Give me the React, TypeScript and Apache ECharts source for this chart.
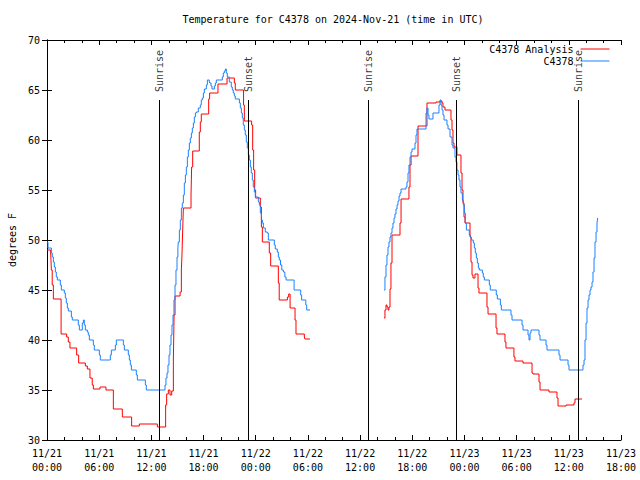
import React, { useEffect, useRef } from "react";
import * as echarts from "echarts";

// hours since 2024-11-21 00:00 UTC
const redHours1 = [0, 0.42, 0.5, 0.6, 0.73, 1.62, 2.26, 2.45, 2.64, 3.41, 3.64, 4.41, 4.64, 4.94, 5.2, 5.33, 6.09, 6.78, 7.63, 8.66, 9.73, 10.62, 12.69, 13.64, 13.76, 13.95, 14.14, 14.34, 14.53, 14.61, 14.72, 15.3, 15.45, 15.52, 15.6, 15.68, 16.56, 16.63, 16.75, 17.51, 17.63, 17.74, 18.59, 18.7, 19.66, 20.7, 21.54, 21.65, 22.6, 22.69, 23.53, 23.65, 23.76, 23.88, 23.99, 24.53, 24.65, 24.76, 25.56, 25.72, 26.6, 26.7, 27.64, 27.79, 27.95, 28.52, 28.63, 29.59, 29.66, 30.24];
const redTemps1 = [49.0, 48.8, 47.0, 45.5, 44.1, 40.6, 40.3, 39.8, 39.2, 38.5, 37.7, 37.4, 37.1, 36.2, 35.5, 35.1, 35.3, 35.0, 33.1, 32.3, 31.4, 31.6, 31.3, 33.5, 34.6, 35.0, 34.5, 34.9, 38.0, 42.5, 44.4, 44.8, 47.0, 48.5, 51.0, 53.2, 54.5, 57.3, 58.9, 60.8, 61.8, 62.6, 64.1, 64.7, 65.6, 66.2, 65.7, 65.0, 63.5, 61.9, 61.5, 59.0, 57.0, 55.0, 54.2, 53.3, 51.3, 49.8, 48.7, 47.4, 45.7, 44.0, 44.3, 44.6, 43.2, 42.0, 40.6, 40.3, 40.1, 40.1];

const redHours2 = [38.75, 38.86, 38.98, 39.09, 39.21, 39.32, 39.44, 39.55, 39.67, 40.59, 40.71, 41.62, 41.74, 41.86, 42.66, 43.69, 44.73, 45.19, 45.42, 45.53, 45.76, 46.45, 46.57, 46.68, 46.8, 47.14, 47.6, 47.72, 47.83, 47.95, 48.06, 48.64, 48.75, 48.87, 48.98, 49.21, 49.56, 49.67, 50.59, 50.71, 51.63, 51.74, 52.66, 52.77, 53.69, 53.81, 54.73, 55.77, 55.88, 56.57, 56.69, 57.72, 58.64, 58.76, 59.68, 60.59, 60.71, 61.52];
const redTemps2 = [42.2, 43.0, 43.5, 43.3, 43.0, 43.3, 45.1, 47.7, 50.5, 51.7, 54.1, 55.3, 57.5, 58.4, 61.4, 63.7, 63.8, 63.9, 63.7, 63.3, 63.0, 62.0, 61.0, 59.7, 59.3, 58.5, 56.7, 55.0, 53.7, 52.3, 51.7, 50.3, 47.8, 46.5, 46.2, 46.6, 45.2, 44.7, 43.3, 42.6, 41.2, 40.6, 39.8, 39.2, 38.3, 37.9, 37.7, 36.7, 36.6, 35.8, 35.0, 34.8, 34.2, 33.4, 33.5, 33.7, 34.1, 34.1];

const blueHours1 = [0, 0.115, 0.5, 0.61, 0.73, 0.84, 0.96, 1.07, 1.19, 1.53, 1.65, 1.99, 2.11, 2.22, 2.34, 2.45, 2.8, 2.91, 3.6, 3.72, 4.06, 4.18, 4.29, 4.41, 4.64, 4.75, 4.87, 5.33, 5.44, 6.02, 6.13, 7.28, 7.4, 7.86, 7.97, 8.78, 8.89, 9.35, 9.47, 9.58, 9.7, 10.27, 10.39, 11.31, 11.42, 13.57, 13.68, 13.8, 13.91, 14.03, 14.14, 14.26, 14.37, 14.49, 14.6, 14.72, 14.83, 14.95, 15.05, 15.1, 15.22, 15.33, 15.45, 15.56, 15.68, 15.79, 15.91, 16.02, 16.14, 16.25, 16.37, 16.48, 16.6, 16.71, 16.83, 16.94, 17.06, 17.17, 17.4, 17.63, 17.74, 17.86, 17.98, 18.09, 18.32, 18.44, 18.66, 18.74, 18.86, 18.97, 19.24, 19.36, 19.47, 20.16, 20.27, 20.39, 20.51, 20.62, 20.73, 20.96, 21.19, 21.31, 21.42, 21.54, 21.65, 22.12, 22.23, 22.35, 22.46, 22.57, 22.69, 22.8, 22.92, 23.03, 23.15, 23.26, 23.38, 23.49, 23.61, 23.72, 23.84, 23.95, 24.3, 24.42, 24.53, 24.65, 24.76, 24.88, 25.1, 25.33, 25.45, 26.14, 26.25, 26.48, 26.6, 26.71, 26.85, 27.0, 27.18, 27.35, 27.49, 28.41, 29.17, 29.28, 29.76, 29.86, 30.24];
const blueTemps1 = [49.8, 49.2, 48.7, 48.3, 47.8, 47.3, 46.8, 46.3, 46.0, 45.5, 45.0, 44.7, 44.2, 43.7, 43.2, 42.9, 42.3, 42.0, 41.5, 41.0, 41.7, 42.0, 41.5, 41.0, 40.8, 40.5, 40.0, 39.5, 39.0, 38.5, 38.0, 38.5, 39.0, 39.5, 40.0, 39.5, 39.0, 38.5, 38.0, 37.5, 37.0, 36.5, 36.0, 35.5, 35.0, 35.5, 36.2, 36.7, 37.5, 38.5, 39.5, 40.5, 41.5, 42.5, 44.0, 45.5, 47.0, 48.3, 49.2, 49.8, 51.0, 52.0, 53.2, 53.7, 54.5, 55.7, 56.5, 57.3, 58.3, 59.0, 59.7, 60.2, 60.7, 61.2, 61.7, 62.3, 62.7, 62.8, 63.2, 63.5, 64.0, 64.2, 64.7, 65.1, 65.5, 66.0, 65.8, 65.7, 65.4, 65.1, 65.4, 65.7, 66.0, 66.3, 66.7, 66.9, 67.1, 66.7, 66.3, 65.8, 65.3, 65.0, 64.7, 64.4, 64.1, 63.7, 63.2, 62.7, 62.2, 61.5, 61.0, 60.5, 59.8, 59.2, 58.5, 58.0, 57.3, 56.7, 56.0, 55.3, 54.8, 54.3, 53.8, 53.5, 52.7, 52.0, 51.7, 51.2, 50.8, 50.7, 50.0, 49.5, 49.1, 48.8, 48.3, 48.0, 47.5, 47.0, 46.8, 46.3, 46.0, 45.0, 44.5, 44.0, 43.5, 43.0, 43.0];

const blueHours2 = [38.75, 38.86, 38.98, 39.09, 39.21, 39.32, 39.44, 39.55, 39.67, 39.78, 39.9, 40.01, 40.13, 40.25, 40.36, 40.48, 40.59, 40.71, 41.28, 41.39, 41.51, 41.62, 41.74, 41.86, 41.97, 42.31, 42.43, 42.54, 43.58, 43.69, 43.81, 43.92, 44.38, 45.07, 45.19, 45.3, 45.42, 45.53, 45.65, 45.99, 46.11, 46.34, 46.57, 46.68, 46.91, 47.03, 47.14, 47.26, 47.37, 47.49, 47.6, 47.76, 47.87, 47.99, 48.1, 48.22, 48.56, 48.68, 48.79, 49.02, 49.14, 49.25, 49.37, 49.48, 49.6, 49.71, 50.06, 50.17, 50.29, 50.86, 50.97, 51.66, 51.78, 52.13, 52.24, 53.35, 53.47, 54.62, 54.73, 55.31, 55.42, 55.54, 55.65, 56.57, 56.69, 57.38, 57.49, 58.87, 58.99, 59.91, 60.02, 61.63, 61.75, 61.86, 61.98, 62.09, 62.21, 62.32, 62.44, 62.55, 62.67, 62.78, 62.9, 63.01, 63.13, 63.24, 63.32];
const blueTemps2 = [45.0, 46.3, 47.5, 48.5, 49.3, 49.8, 50.3, 50.7, 51.2, 51.7, 52.2, 52.6, 53.1, 53.5, 53.9, 54.4, 54.7, 55.1, 55.3, 55.8, 56.7, 57.5, 58.3, 58.8, 59.1, 59.7, 60.5, 61.1, 62.7, 63.2, 62.5, 62.1, 62.7, 63.5, 64.0, 63.5, 63.0, 62.5, 62.0, 61.5, 61.1, 60.3, 59.5, 59.2, 58.3, 57.8, 57.0, 56.5, 56.0, 55.3, 54.7, 54.0, 53.5, 52.7, 51.7, 51.0, 50.5, 50.3, 50.0, 49.7, 49.2, 48.7, 48.2, 47.7, 47.2, 47.0, 46.7, 46.3, 46.0, 45.5, 45.0, 44.5, 44.1, 43.5, 43.0, 42.5, 42.0, 41.5, 41.0, 40.5, 40.0, 40.7, 41.0, 40.5, 40.0, 39.5, 39.0, 38.5, 38.0, 37.5, 37.0, 37.5, 38.0, 40.0, 41.7, 43.2, 44.0, 44.5, 45.0, 45.3, 45.8, 46.8, 48.2, 49.8, 50.8, 51.7, 52.2];

const sunNames = ["Sunrise", "Sunset", "Sunrise", "Sunset", "Sunrise"];
const sunHours = [12.91, 23.15, 36.98, 47.07, 61.09];
const sunLineTop = 64;

const TITLE = "Temperature for C4378 on 2024-Nov-21 (time in UTC)";
const SERIES_NAMES = ["C4378 Analysis", "C4378"];
const X_MIN = 0, X_MAX = 66, X_STEP = 6;
const Y_MIN = 30, Y_MAX = 70, Y_STEP = 5;
const START_DAY = 21;

const FONT = "'DejaVu Sans Mono', 'Liberation Mono', monospace";

function pairs(h: number[], v: number[]) {
  return h.map((x, i) => [x, v[i]]);
}

export default function App() {
  const ref = useRef<HTMLDivElement>(null);
  useEffect(() => {
    if (!ref.current) return;
    const chart = echarts.init(ref.current, undefined, { renderer: "svg" });
    const redData = [...pairs(redHours1, redTemps1), [null, null], ...pairs(redHours2, redTemps2)];
    const blueData = [...pairs(blueHours1, blueTemps1), [null, null], ...pairs(blueHours2, blueTemps2)];
    const fmtX = (v: number) => {
      const day = START_DAY + Math.floor(v / 24);
      const hh = Math.round(v % 24);
      return `11/${day}\n${String(hh).padStart(2, "0")}:00`;
    };
    const axisLine = { show: true, lineStyle: { color: "#000", width: 1 } };
    const xCommon = {
      type: "value",
      min: X_MIN,
      max: X_MAX,
      interval: X_STEP,
      axisLine,
      axisTick: { show: true, inside: true, length: 5, lineStyle: { color: "#000" } },
      minorTick: { show: true, splitNumber: 3, length: 3, lineStyle: { color: "#000" } },
      splitLine: { show: false },
    };
    const yCommon = {
      type: "value",
      min: Y_MIN,
      max: Y_MAX,
      interval: Y_STEP,
      axisLine,
      axisTick: { show: true, inside: true, length: 5, lineStyle: { color: "#000" } },
      splitLine: { show: false },
    };
    chart.setOption({
      animation: false,
      backgroundColor: "#fff",
      textStyle: { fontFamily: FONT },
      title: {
        text: TITLE,
        left: 333,
        textAlign: "center",
        top: 14,
        padding: 0,
        textStyle: { fontFamily: FONT, fontSize: 10, fontWeight: "normal", color: "#000" },
      },
      legend: {
        data: SERIES_NAMES,
        orient: "vertical",
        right: 30,
        top: 44,
        align: "right",
        itemWidth: 29,
        itemHeight: 10,
        itemGap: 2,
        padding: 0,
        itemStyle: { opacity: 0 },
        lineStyle: { width: 1 },
        textStyle: { fontFamily: FONT, fontSize: 10, color: "#000", padding: [0, 2, 0, 0] },
      },
      grid: { left: 47, right: 19, top: 40, bottom: 40, containLabel: false, outerBoundsMode: "none" },
      xAxis: [
        {
          ...xCommon,
          position: "bottom",
          axisLabel: {
            formatter: fmtX,
            fontFamily: FONT,
            fontSize: 10,
            color: "#000",
            lineHeight: 14,
            margin: 6,
            showMaxLabel: true,
            showMinLabel: true,
          },
        },
        { ...xCommon, position: "top", axisLabel: { show: false } },
      ],
      yAxis: [
        {
          ...yCommon,
          position: "left",
          name: "degrees F",
          nameLocation: "middle",
          nameGap: 30,
          nameRotate: 90,
          nameTextStyle: { fontFamily: FONT, fontSize: 10, color: "#000" },
          axisLabel: { fontFamily: FONT, fontSize: 10, color: "#000", margin: 7 },
        },
        { ...yCommon, position: "right", axisLabel: { show: false } },
      ],
      series: [
        {
          name: SERIES_NAMES[0],
          type: "line",
          step: "end",
          data: redData,
          symbol: "none",
          connectNulls: false,
          color: "#ff0000",
          lineStyle: { color: "#ff0000", width: 1 },
          z: 3,
        },
        {
          name: SERIES_NAMES[1],
          type: "line",
          step: "end",
          data: blueData,
          symbol: "none",
          connectNulls: false,
          color: "#1a82ff",
          lineStyle: { color: "#1a82ff", width: 1 },
          z: 4,
        },
        {
          name: "sun",
          type: "scatter",
          symbolSize: 0,
          data: sunHours.map((h, i) => ({ value: [h, sunLineTop], name: sunNames[i] })),
          label: {
            show: true,
            formatter: (p: any) => p.name,
            position: "inside",
            rotate: 90,
            align: "left",
            verticalAlign: "middle",
            padding: [0, 0, 0, 8],
            fontFamily: FONT,
            fontSize: 10,
            color: "#000",
          },
          markLine: {
            silent: true,
            symbol: "none",
            label: { show: false },
            lineStyle: { color: "#000", width: 1, type: "solid" },
            data: sunHours.map((h) => [
              { coord: [h, sunLineTop] },
              { coord: [h, Y_MIN] },
            ]),
          },
          z: 5,
        },
      ],
    });
    return () => chart.dispose();
  }, []);
  return (
    <div
      ref={ref}
      style={{ position: "absolute", left: 0, top: 0, width: 640, height: 480, background: "#fff" }}
    />
  );
}
